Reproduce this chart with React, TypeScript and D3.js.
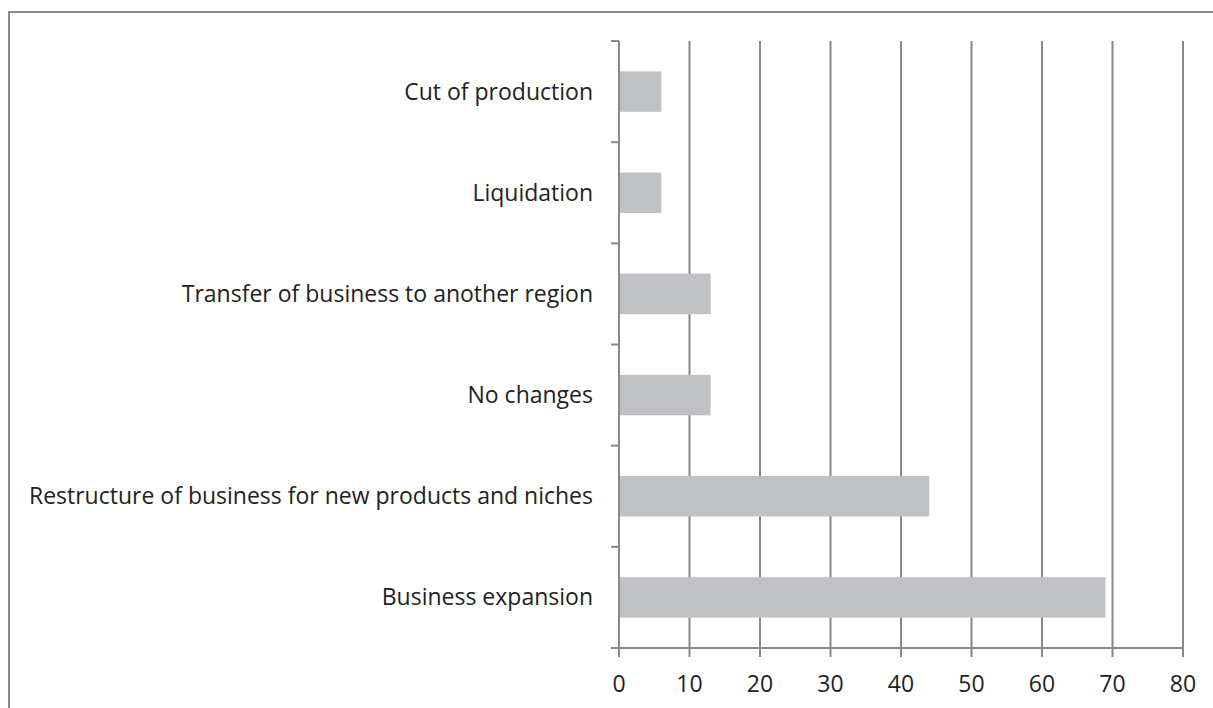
import React from "react";
import * as d3 from "d3";

const categories = [
  "Cut of production",
  "Liquidation",
  "Transfer of business to another region",
  "No changes",
  "Restructure of business for new products and niches",
  "Business expansion",
];
const values = [6, 6, 13, 13, 44, 69];
const xTicks = [0, 10, 20, 30, 40, 50, 60, 70, 80];

const W = 1213;
const H = 708;
const FONT = "'Open Sans', sans-serif";

export default function App() {
  const x = d3.scaleLinear().domain([0, 80]).range([619, 1183]);
  const band = d3.scaleBand<string>().domain(categories).range([41, 648]);
  const grid = "#888888";
  return (
    <svg width={W} height={H} style={{ position: "absolute", left: 0, top: 0, background: "#fff" }}>
      <rect x={9} y={12} width={W + 10} height={H + 10} fill="none" stroke="#8a8a8a" strokeWidth={2} />
      {xTicks.filter((t) => t > 0).map((t) => (
        <line key={"g" + t} x1={x(t)} x2={x(t)} y1={41} y2={648} stroke={grid} strokeWidth={2} />
      ))}
      {categories.map((c, i) => (
        <rect key={c} x={x(0)} y={band(c)! + band.bandwidth() * 0.3} width={x(values[i]) - x(0)}
          height={band.bandwidth() * 0.4} fill="#c0c1c5" />
      ))}
      <line x1={x(0)} x2={x(0)} y1={41} y2={649} stroke={grid} strokeWidth={2} />
      <line x1={611} x2={x(80) + 1} y1={648} y2={648} stroke={grid} strokeWidth={2} />
      {categories.map((c) => (
        <line key={"t" + c} x1={611} x2={x(0)} y1={band(c)!} y2={band(c)!} stroke={grid} strokeWidth={2} />
      ))}
      {xTicks.map((t) => (
        <line key={"xt" + t} x1={x(t)} x2={x(t)} y1={648} y2={657} stroke={grid} strokeWidth={2} />
      ))}
      {xTicks.map((t) => (
        <text key={"xl" + t} x={x(t)} y={692} textAnchor="middle" fontFamily={FONT} fontSize={23} fill="#222">
          {t}
        </text>
      ))}
      {categories.map((c) => (
        <text key={"l" + c} x={593} y={band(c)! + band.bandwidth() / 2} dy="0.35em" textAnchor="end"
          fontFamily={FONT} fontSize={23} fill="#222">
          {c}
        </text>
      ))}
    </svg>
  );
}
